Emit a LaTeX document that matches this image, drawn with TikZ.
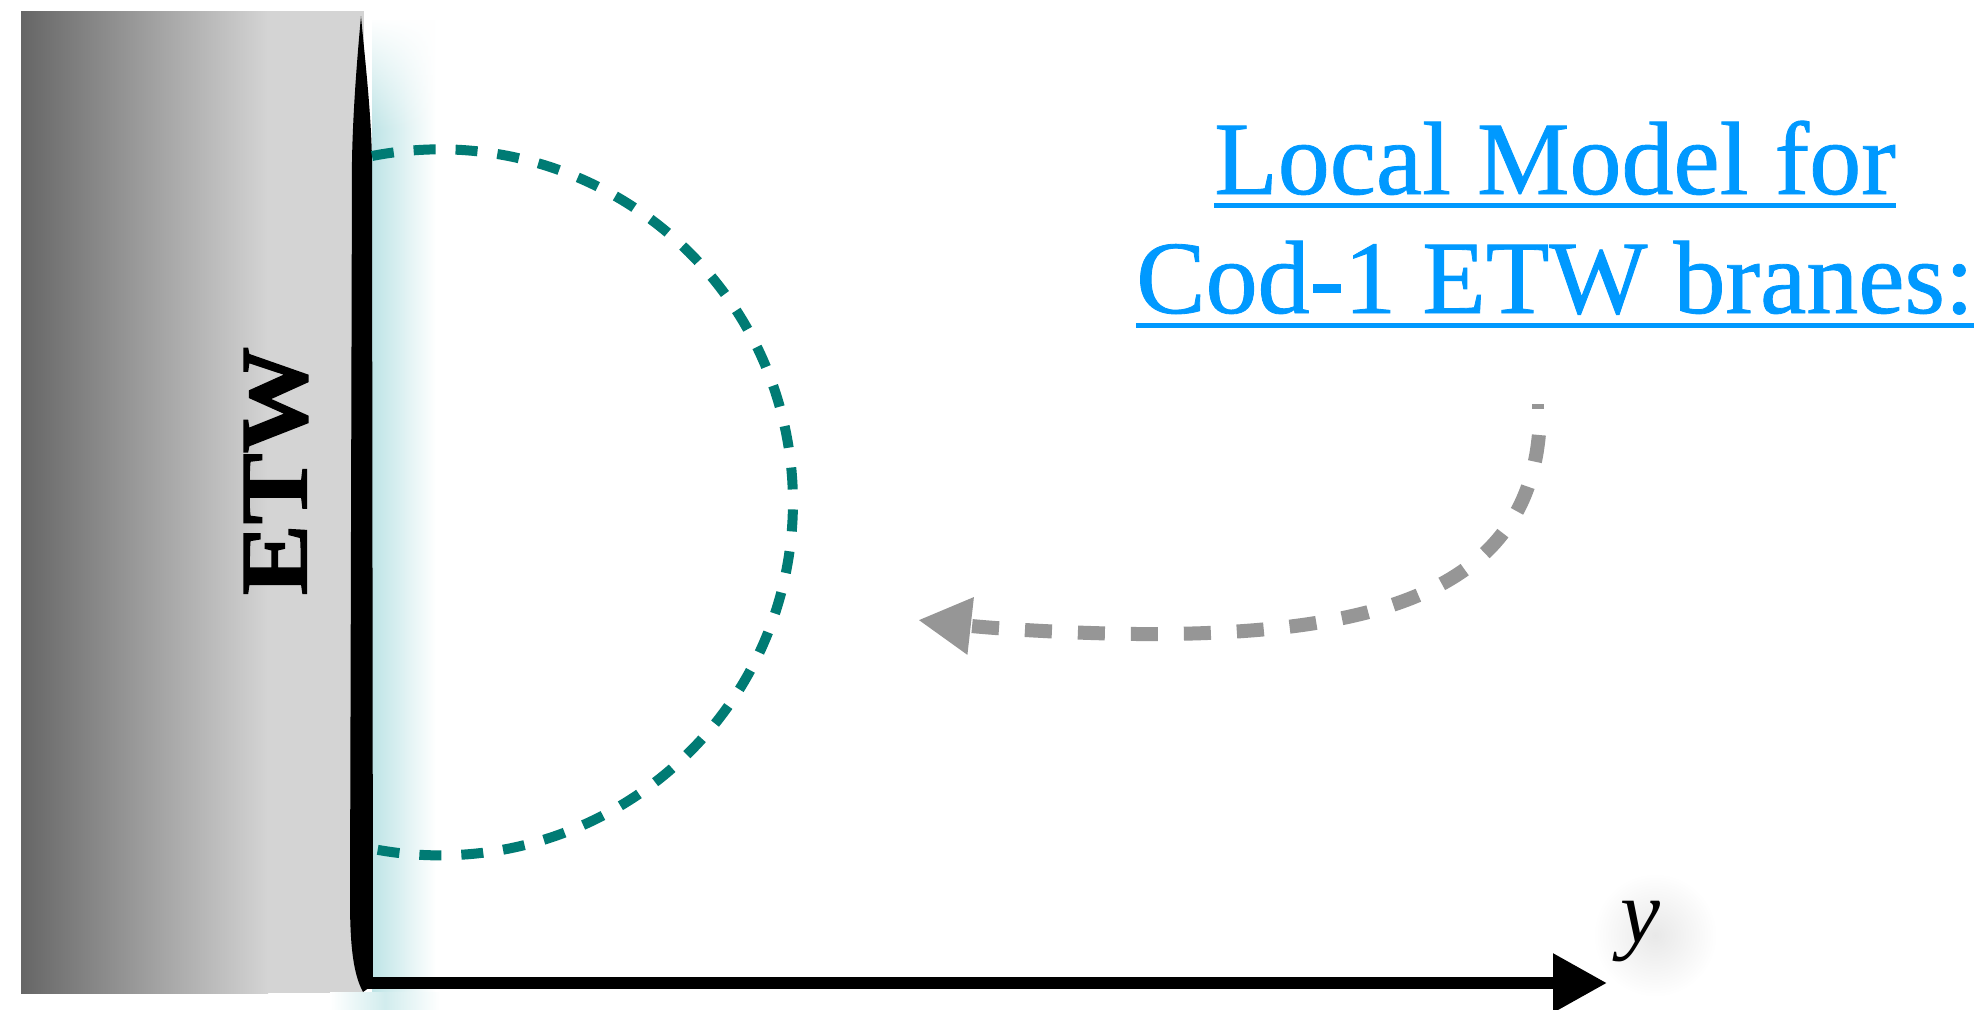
\documentclass[tikz,border=0pt]{standalone}
\usepackage{fontspec}
\setmainfont{Liberation Serif}
\newfontfamily\timesface{Liberation Serif}
\newfontfamily\titleface[FakeBold=0.8]{Liberation Serif}
\newfontfamily\etwface[FakeBold=1.5]{Liberation Serif Bold}
\usetikzlibrary{arrows.meta,fadings}
\definecolor{titleblue}{RGB}{0,153,255}
\definecolor{circteal}{RGB}{0,123,116}
\definecolor{arrowgrey}{RGB}{150,150,150}
\definecolor{glowcyan}{RGB}{190,228,230}
\definecolor{greydark}{RGB}{102,102,102}
\definecolor{greylight}{RGB}{212,212,212}
\begin{document}
\begin{tikzpicture}[x=1pt,y=-1pt,
  titletext/.style={text=titleblue, inner sep=0pt, anchor=base, font=\titleface\fontsize{104}{120}\selectfont},
  uline/.style={titleblue, line width=5pt},
  circdash/.style={circteal, line width=10pt, dash pattern=on 22pt off 20pt},
  greyarrow/.style={arrowgrey, line width=14pt, dash pattern=on 27pt off 26pt, dash phase=27pt, -{Triangle[length=53pt,width=54pt]}},
  greystub/.style={arrowgrey, line width=5pt},
  axisline/.style={black, line width=12pt, -{Triangle[length=54pt,width=56pt]}},
  etwlabel/.style={rotate=90, inner sep=0pt, font=\etwface\fontsize{95}{100}\selectfont},
  ylabel/.style={inner sep=0pt, anchor=base, font=\timesface\itshape\fontsize{90}{100}\selectfont},
]
\useasboundingbox (0,0) rectangle (1977,1009);
\fill[white] (0,0) rectangle (1977,1009);
% ETW slab
\shade[left color=greydark, right color=greylight] (21,11) rectangle (268,993);
\fill[greylight] (267,11) rectangle (364,993);
% glow next to the brane
\shade[left color=glowcyan, right color=white] (372,20) rectangle (436,1009);
\fill[white, path fading=south] (372,18) rectangle (440,130);
\shade[left color=white, right color=white, middle color=glowcyan!70] (330,992) rectangle (440,1009);
% brane line
\fill[black] (361,16) .. controls (365,60) and (371,110) .. (372,160) -- (373,985) -- (363,992)
  .. controls (354,975) and (350,950) .. (350,900) -- (352,160) .. controls (353,110) and (357,60) .. (361,16) -- cycle;
% axis
\coordinate (corner) at (364,983);
\coordinate (ytip) at (1607,983);
\draw[axisline] (corner) -- (ytip);
% y label
\shade[inner color=black!9, outer color=white] (1655,935) circle (62);
\node[ylabel] (ylab) at (1640,942) {y};
% teal dashed arc
\coordinate (atop) at (372,156);
\draw[circdash] (atop) arc[start angle=-101.1, end angle=101.1, radius=353];
% grey dashed arrow
\coordinate (gs) at (1532,406);
\coordinate (gc) at (1544,406);
\coordinate (gd) at (1540,409);
\coordinate (gm) at (1137,634);
\coordinate (gtip) at (918,620);
\draw[greystub] (gs) -- (gc);
\draw[greyarrow] (gd) .. controls (1540,580) and (1400,636) .. (gm) .. controls (1050,633) and (980,627) .. (gtip);
% ETW label
\node[etwlabel] (etw) at (276,471) {\scalebox{1.12}[1]{ETW}};
% title
\node[titletext] (t1) at (1555,194) {Local Model for};
\node[titletext] (t2) at (1555,313) {Cod-1 ETW branes:};
\draw[uline] ([yshift=-11pt]t1.base west) -- ([yshift=-11pt]t1.base east);
\draw[uline] ([yshift=-12pt]t2.base west) -- ([yshift=-12pt]t2.base east);
\end{tikzpicture}
\end{document}
